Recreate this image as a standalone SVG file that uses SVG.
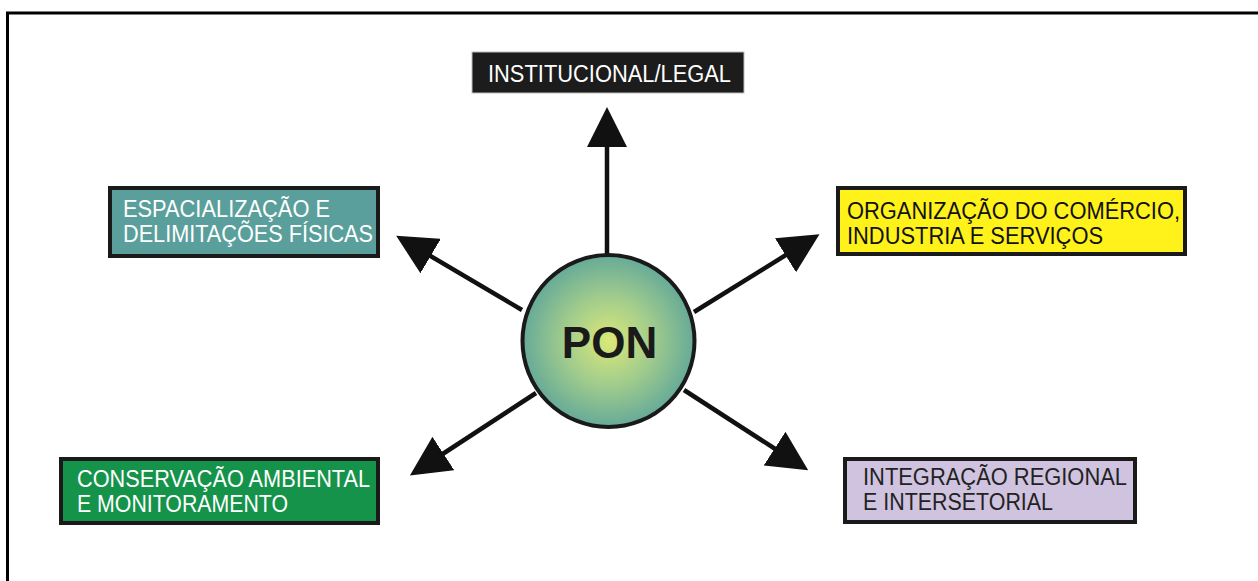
<svg xmlns="http://www.w3.org/2000/svg" width="1258" height="581" viewBox="0 0 1258 581">
<defs>
<style>
.box{stroke:#1a1a1a;stroke-width:4}
.t{font-family:"Liberation Sans",Arial,sans-serif;font-size:23px}
.w{fill:#ffffff}
.k{fill:#111111}
.conn line{stroke:#111111;stroke-width:4.5;marker-end:url(#ah)}
</style>
<marker id="ah" viewBox="0 0 40 40" refX="10" refY="20" markerWidth="40" markerHeight="40" markerUnits="userSpaceOnUse" orient="auto">
<path d="M0,0 L40,20 L0,40 Z" fill="#111111"/>
</marker>
<radialGradient id="g" cx="0.5" cy="0.5" r="0.5">
<stop offset="0" stop-color="#dbe878"/>
<stop offset="0.5" stop-color="#a3cd8c"/>
<stop offset="1" stop-color="#66aa98"/>
</radialGradient>
</defs>
<rect width="1258" height="581" fill="#ffffff"/>
<path d="M7.5,581 V13 H1258" fill="none" stroke="#000000" stroke-width="3"/>
<g class="conn">
<line x1="607" y1="256" x2="607" y2="137"/>
<line x1="522" y1="310" x2="422" y2="251"/>
<line x1="694" y1="312" x2="794" y2="250"/>
<line x1="536" y1="393" x2="435" y2="459"/>
<line x1="684" y1="390" x2="783" y2="454"/>
</g>
<g id="pon">
<circle cx="608.5" cy="341" r="86" fill="url(#g)" stroke="#1a1a1a" stroke-width="4"/>
<text x="609.5" y="358" text-anchor="middle" style="font-family:'Liberation Sans',Arial,sans-serif;font-size:44px;font-weight:bold" fill="#1a1a1a">PON</text>
</g>
<g id="institucional">
<rect x="472" y="52" width="272" height="41" fill="#1c1c1c" stroke="#bdbdbd" stroke-width="1"/>
<text class="t w" x="488" y="82" textLength="243" lengthAdjust="spacingAndGlyphs">INSTITUCIONAL/LEGAL</text>
</g>
<g id="espacializacao">
<rect class="box" x="110" y="188" width="268" height="68" fill="#5a9f9c"/>
<text class="t w" x="123" y="217" textLength="207" lengthAdjust="spacingAndGlyphs">ESPACIALIZAÇÃO E</text>
<text class="t w" x="123" y="242" textLength="250" lengthAdjust="spacingAndGlyphs">DELIMITAÇÕES FÍSICAS</text>
</g>
<g id="organizacao">
<rect class="box" x="838" y="188" width="347" height="66" fill="#fff21a"/>
<text class="t k" x="847" y="219" textLength="333" lengthAdjust="spacingAndGlyphs">ORGANIZAÇÃO DO COMÉRCIO,</text>
<text class="t k" x="847" y="244" textLength="256" lengthAdjust="spacingAndGlyphs">INDUSTRIA E SERVIÇOS</text>
</g>
<g id="conservacao">
<rect class="box" x="61" y="459" width="317" height="64" fill="#16934a"/>
<text class="t w" x="77" y="487" textLength="293" lengthAdjust="spacingAndGlyphs">CONSERVAÇÃO AMBIENTAL</text>
<text class="t w" x="77" y="512" textLength="211" lengthAdjust="spacingAndGlyphs">E MONITORAMENTO</text>
</g>
<g id="integracao">
<rect class="box" x="845" y="459" width="290" height="63" fill="#cfc3df"/>
<text class="t" x="863" y="485" fill="#222222" textLength="264" lengthAdjust="spacingAndGlyphs">INTEGRAÇÃO REGIONAL</text>
<text class="t" x="863" y="510" fill="#222222" textLength="190" lengthAdjust="spacingAndGlyphs">E INTERSETORIAL</text>
</g>
</svg>
